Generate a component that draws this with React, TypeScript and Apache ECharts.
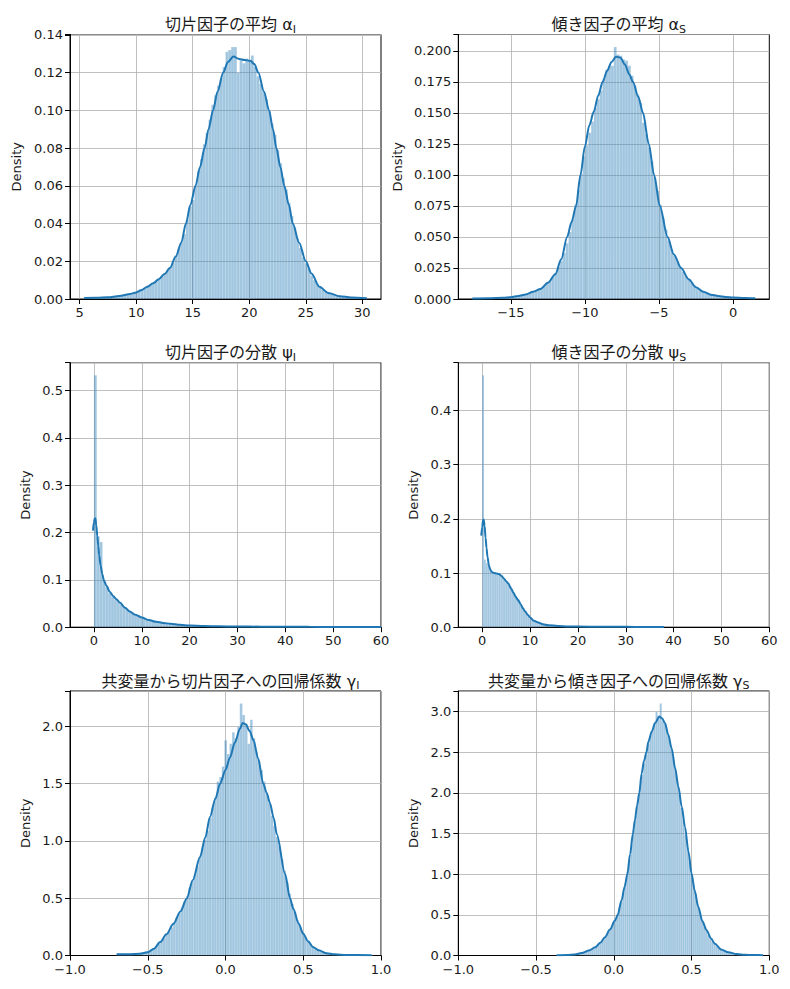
import React, { useEffect, useRef } from "react";
import * as echarts from "echarts";

// ---------- DATA ----------
const titles = [
  "切片因子の平均 α",
  "傾き因子の平均 α",
  "切片因子の分散 ψ",
  "傾き因子の分散 ψ",
  "共変量から切片因子への回帰係数 γ",
  "共変量から傾き因子への回帰係数 γ",
];
const subscripts = ["I", "S", "I", "S", "I", "S"];

// histogram bin start & width
const binStarts = [5.4, -17.6, 0.0, 0.0, -0.7, -0.37];
const binWidths = [0.25, 0.191, 0.6, 0.38, 0.0165, 0.0133];

const alphaIHeights = [
  0.0005, 0.0003, 0.0004, 0.0005, 0.0006, 0.0006, 0.0008, 0.0009, 0.001, 0.0011,
  0.0013, 0.0015, 0.0017, 0.002, 0.0022, 0.0026, 0.0028, 0.0032, 0.0036, 0.0042,
  0.005, 0.0058, 0.007, 0.0076, 0.0084, 0.0092, 0.0105, 0.0118, 0.013, 0.015,
  0.0165, 0.019, 0.023, 0.0265, 0.03, 0.0345, 0.042, 0.049, 0.0525, 0.06,
  0.068, 0.074, 0.082, 0.088, 0.095, 0.103, 0.108, 0.113, 0.117, 0.123,
  0.131, 0.132, 0.1335, 0.1335, 0.12, 0.1265, 0.125, 0.1275, 0.1265, 0.129,
  0.123, 0.118, 0.114, 0.11, 0.106, 0.1, 0.093, 0.087, 0.079, 0.072,
  0.064, 0.058, 0.051, 0.044, 0.038, 0.032, 0.027, 0.022, 0.019, 0.016,
  0.0125, 0.01, 0.008, 0.0062, 0.005, 0.004, 0.003, 0.0024, 0.0019, 0.0015,
  0.0012, 0.001, 0.0008, 0.0007, 0.0006, 0.0005, 0.0004, 0.0004, 0.0003, 0.0004,
];
const alphaSHeights = [
  0.0004, 0.0003, 0.0004, 0.0005, 0.0005, 0.0006, 0.0006, 0.0007, 0.0008, 0.0009,
  0.001, 0.0012, 0.0014, 0.0016, 0.002, 0.0024, 0.0028, 0.0033, 0.0038, 0.0045,
  0.0052, 0.006, 0.0068, 0.0076, 0.0088, 0.0105, 0.0125, 0.015, 0.0175, 0.021,
  0.026, 0.031, 0.037, 0.045, 0.054, 0.064, 0.076, 0.088, 0.101, 0.115,
  0.124, 0.134, 0.143, 0.154, 0.161, 0.168, 0.177, 0.185, 0.188, 0.188,
  0.203, 0.197, 0.196, 0.193, 0.192, 0.188, 0.18, 0.172, 0.165, 0.158,
  0.142, 0.133, 0.122, 0.111, 0.098, 0.087, 0.076, 0.065, 0.056, 0.047,
  0.04, 0.035, 0.03, 0.026, 0.022, 0.0185, 0.0155, 0.013, 0.011, 0.009,
  0.0075, 0.0062, 0.0052, 0.0043, 0.0036, 0.003, 0.0026, 0.0022, 0.0019, 0.0017,
  0.0015, 0.0013, 0.0012, 0.0011, 0.001, 0.0009, 0.0009, 0.0008, 0.0008, 0.0007,
];
const psiIHeights = [
  0.532, 0.192, 0.18, 0.1, 0.085, 0.072, 0.065, 0.058, 0.053, 0.048,
  0.043, 0.039, 0.035, 0.031, 0.028, 0.025, 0.022, 0.0195, 0.0175, 0.0155,
  0.014, 0.0125, 0.011, 0.01, 0.009, 0.008, 0.0072, 0.0065, 0.0058, 0.0052,
  0.0047, 0.0042, 0.0038, 0.0035, 0.0032, 0.0029, 0.0027, 0.0025, 0.0023, 0.0021,
  0.002, 0.0018, 0.0017, 0.0016, 0.0016, 0.0015, 0.0015, 0.0014, 0.0014, 0.0013,
  0.0013, 0.0012, 0.0012, 0.0012, 0.0011, 0.0011, 0.0011, 0.001, 0.001, 0.001,
  0.0009, 0.0009, 0.0009, 0.0009, 0.0008, 0.0008, 0.0008, 0.0008, 0.0007, 0.0007,
  0.0007, 0.0007, 0.0007, 0.0006, 0.0006, 0.0006, 0.0006, 0.0006, 0.0006, 0.0005,
  0.0005, 0.0005, 0.0005, 0.0005, 0.0005, 0.0005, 0.0004, 0.0004, 0.0004, 0.0004,
  0.0004, 0.0004, 0.0004, 0.0004, 0.0003, 0.0003, 0.0003, 0.0003, 0.0003, 0.0003,
];
const psiSHeights = [
  0.465, 0.125, 0.118, 0.115, 0.108, 0.1, 0.1, 0.099, 0.098, 0.097,
  0.095, 0.092, 0.089, 0.085, 0.081, 0.076, 0.07, 0.063, 0.057, 0.052,
  0.047, 0.041, 0.035, 0.03, 0.026, 0.022, 0.018, 0.015, 0.0125, 0.0105,
  0.009, 0.0076, 0.0064, 0.0054, 0.0046, 0.004, 0.0035, 0.0031, 0.0027, 0.0024,
  0.0022, 0.002, 0.0019, 0.0018, 0.0017, 0.0016, 0.0015, 0.0015, 0.0014, 0.0014,
  0.0013, 0.0013, 0.0012, 0.0012, 0.0012, 0.0011, 0.0011, 0.0011, 0.001, 0.001,
  0.001, 0.0009, 0.0009, 0.0009, 0.0009, 0.0008, 0.0008, 0.0008, 0.0008, 0.0007,
  0.0007, 0.0007, 0.0007, 0.0007, 0.0006, 0.0006, 0.0006, 0.0006, 0.0006, 0.0005,
  0.0005, 0.0005, 0.0005, 0.0005, 0.0005, 0.0005, 0.0004, 0.0004, 0.0004, 0.0004,
  0.0004, 0.0004, 0.0004, 0.0003, 0.0003, 0.0003, 0.0003, 0.0003, 0.0003, 0.0003,
];
const gammaIHeights = [
  0.01, 0.01, 0.012, 0.012, 0.013, 0.015, 0.016, 0.018, 0.02, 0.024,
  0.028, 0.034, 0.042, 0.052, 0.066, 0.082, 0.1, 0.125, 0.15, 0.18,
  0.21, 0.245, 0.285, 0.33, 0.37, 0.42, 0.47, 0.52, 0.59, 0.65,
  0.7, 0.78, 0.86, 0.94, 1.01, 1.09, 1.2, 1.29, 1.38, 1.52,
  1.56, 1.65, 1.88, 1.76, 1.85, 1.95, 1.9, 2.0, 2.2, 2.1,
  2.02, 1.85, 2.06, 1.9, 1.78, 1.7, 1.62, 1.52, 1.42, 1.33,
  1.22, 1.13, 1.04, 0.95, 0.84, 0.74, 0.64, 0.54, 0.45, 0.38,
  0.31, 0.25, 0.2, 0.16, 0.125, 0.1, 0.08, 0.065, 0.055, 0.045,
  0.035, 0.028, 0.022, 0.018, 0.014, 0.011, 0.009, 0.008, 0.007, 0.006,
  0.005, 0.005, 0.004, 0.004, 0.004, 0.003, 0.003, 0.003, 0.003, 0.002,
];
const gammaSHeights = [
  0.004, 0.004, 0.005, 0.005, 0.006, 0.007, 0.008, 0.01, 0.012, 0.015,
  0.018, 0.023, 0.03, 0.038, 0.046, 0.055, 0.066, 0.08, 0.095, 0.115,
  0.135, 0.16, 0.185, 0.22, 0.26, 0.3, 0.34, 0.39, 0.44, 0.5,
  0.58, 0.66, 0.77, 0.89, 1.03, 1.18, 1.36, 1.54, 1.72, 1.9,
  2.08, 2.22, 2.36, 2.47, 2.6, 2.7, 2.76, 2.85, 3.0, 2.95,
  3.1, 2.88, 2.86, 2.76, 2.7, 2.58, 2.44, 2.3, 2.15, 1.98,
  1.82, 1.66, 1.48, 1.32, 1.15, 1.0, 0.86, 0.73, 0.62, 0.52,
  0.43, 0.36, 0.3, 0.25, 0.2, 0.17, 0.14, 0.115, 0.095, 0.078,
  0.064, 0.052, 0.043, 0.036, 0.029, 0.024, 0.02, 0.016, 0.013, 0.011,
  0.009, 0.008, 0.007, 0.006, 0.005, 0.005, 0.004, 0.004, 0.004, 0.003,
];

// KDE curves [x, density]
const alphaIKde = [
  [5.4, 0.0005], [6.5, 0.0006], [7.5, 0.0009], [8.5, 0.0016], [9.5, 0.0027], [10.0, 0.0035],
  [10.5, 0.0048], [11.0, 0.0065], [11.5, 0.0083], [12.0, 0.0105], [12.5, 0.0132], [13.0, 0.0165],
  [13.5, 0.0225], [14.0, 0.03], [14.4, 0.04], [14.8, 0.05], [15.25, 0.06], [15.65, 0.07],
  [16.05, 0.08], [16.4, 0.09], [16.8, 0.1], [17.2, 0.11], [17.7, 0.12], [18.1, 0.1255],
  [18.6, 0.1285], [19.1, 0.1272], [19.6, 0.1267], [20.1, 0.1262], [20.45, 0.1245], [20.8, 0.12],
  [21.3, 0.11], [21.75, 0.1], [22.1, 0.09], [22.4, 0.08], [22.75, 0.07], [23.1, 0.06],
  [23.5, 0.05], [23.85, 0.04], [24.4, 0.03], [25.0, 0.02], [25.5, 0.0135], [26.2, 0.0065],
  [27.0, 0.0032], [28.0, 0.0015], [29.0, 0.0008], [30.4, 0.0004],
];
const alphaSKde = [
  [-17.6, 0.0004], [-16.5, 0.0006], [-15.5, 0.0011], [-15.0, 0.0015], [-14.5, 0.0025], [-14.0, 0.0036],
  [-13.5, 0.0058], [-13.0, 0.008], [-12.5, 0.013], [-12.0, 0.02], [-11.6, 0.032], [-11.2, 0.05],
  [-10.9, 0.062], [-10.6, 0.075], [-10.3, 0.1], [-10.0, 0.123], [-9.7, 0.14], [-9.4, 0.151],
  [-9.1, 0.164], [-8.8, 0.175], [-8.5, 0.184], [-8.2, 0.191], [-7.9, 0.1953], [-7.6, 0.1945],
  [-7.3, 0.189], [-7.0, 0.181], [-6.76, 0.175], [-6.4, 0.163], [-6.08, 0.15], [-5.69, 0.125],
  [-5.33, 0.1], [-4.94, 0.075], [-4.42, 0.05], [-4.0, 0.036], [-3.5, 0.025], [-3.0, 0.016],
  [-2.5, 0.0095], [-2.0, 0.0058], [-1.5, 0.0035], [-1.0, 0.0024], [-0.5, 0.0017], [0.0, 0.0013],
  [0.8, 0.0009], [1.5, 0.0007],
];
const psiIKde = [
  [-0.2, 0.204], [0.0, 0.222], [0.15, 0.229], [0.3, 0.23], [0.5, 0.215], [0.7, 0.193],
  [0.9, 0.172], [1.1, 0.152], [1.4, 0.13], [1.75, 0.112], [2.1, 0.098], [2.6, 0.088],
  [3.3, 0.075], [4.0, 0.066], [4.7, 0.059], [5.4, 0.052], [6.5, 0.041], [7.5, 0.033],
  [8.5, 0.027], [10.0, 0.0205], [11.5, 0.015], [13.0, 0.0115], [14.5, 0.009], [16.0, 0.0072],
  [18.0, 0.005], [20.0, 0.0036], [23.0, 0.0025], [26.0, 0.0019], [30.0, 0.0015], [35.0, 0.0011],
  [40.0, 0.0009], [45.0, 0.0007], [50.0, 0.0006], [55.0, 0.0005], [60.0, 0.0004],
];
const psiSKde = [
  [-0.2, 0.169], [0.0, 0.185], [0.15, 0.196], [0.3, 0.199], [0.5, 0.187], [0.7, 0.165],
  [0.9, 0.146], [1.1, 0.13], [1.4, 0.114], [1.7, 0.106], [2.0, 0.102], [2.5, 0.1],
  [3.0, 0.099], [3.5, 0.098], [4.0, 0.095], [4.5, 0.09], [5.0, 0.085], [5.5, 0.08],
  [6.0, 0.072], [6.5, 0.064], [7.0, 0.056], [7.5, 0.05], [8.0, 0.043], [8.5, 0.035],
  [9.0, 0.029], [9.5, 0.023], [10.0, 0.018], [10.8, 0.012], [11.7, 0.0088], [12.7, 0.0055],
  [13.8, 0.0037], [15.8, 0.0022], [18.0, 0.0015], [20.0, 0.0012], [25.0, 0.0008], [30.0, 0.0006],
  [34.0, 0.0004], [38.0, 0.0003],
];
const gammaIKde = [
  [-0.7, 0.01], [-0.62, 0.012], [-0.55, 0.015], [-0.5, 0.028], [-0.46, 0.06], [-0.42, 0.117],
  [-0.38, 0.185], [-0.335, 0.277], [-0.29, 0.385], [-0.25, 0.496], [-0.21, 0.66], [-0.164, 0.86],
  [-0.13, 1.03], [-0.1, 1.21], [-0.065, 1.37], [-0.035, 1.5], [0.0, 1.62], [0.029, 1.73],
  [0.06, 1.86], [0.093, 1.98], [0.11, 2.03], [0.13, 2.02], [0.155, 1.96], [0.18, 1.88],
  [0.21, 1.72], [0.243, 1.5], [0.265, 1.42], [0.286, 1.33], [0.31, 1.2], [0.33, 1.06],
  [0.383, 0.714], [0.415, 0.5], [0.436, 0.408], [0.47, 0.28], [0.5, 0.19], [0.53, 0.125],
  [0.565, 0.073], [0.6, 0.045], [0.65, 0.02], [0.7, 0.01], [0.78, 0.005], [0.94, 0.003],
];
const gammaSKde = [
  [-0.368, 0.004], [-0.3, 0.007], [-0.25, 0.013], [-0.207, 0.03], [-0.16, 0.06], [-0.12, 0.1],
  [-0.085, 0.16], [-0.057, 0.226], [-0.025, 0.32], [0.0075, 0.43], [0.025, 0.5], [0.05, 0.68],
  [0.07, 0.85], [0.087, 1.0], [0.105, 1.25], [0.123, 1.5], [0.136, 1.67], [0.15, 1.85],
  [0.164, 2.0], [0.179, 2.24], [0.195, 2.4], [0.21, 2.5], [0.222, 2.63], [0.245, 2.76],
  [0.265, 2.86], [0.293, 2.94], [0.31, 2.92], [0.329, 2.86], [0.35, 2.72], [0.372, 2.55],
  [0.395, 2.3], [0.415, 2.08], [0.437, 1.83], [0.458, 1.58], [0.48, 1.28], [0.5, 1.01],
  [0.52, 0.8], [0.543, 0.6], [0.57, 0.42], [0.597, 0.31], [0.625, 0.21], [0.65, 0.144],
  [0.69, 0.075], [0.736, 0.041], [0.79, 0.017], [0.843, 0.008], [0.9, 0.005], [0.96, 0.004],
];

// axis ranges and tick labels
const xRanges = [[4.15, 31.65], [-18.55, 2.45], [-5, 60], [-5, 60], [-1, 1], [-1, 1]];
const xTickValues = [
  [5, 10, 15, 20, 25, 30],
  [-15, -10, -5, 0],
  [0, 10, 20, 30, 40, 50, 60],
  [0, 10, 20, 30, 40, 50, 60],
  [-1, -0.5, 0, 0.5, 1],
  [-1, -0.5, 0, 0.5, 1],
];
const xStep = [5, 5, 10, 10, 0.5, 0.5];
const xDecimals = [0, 0, 0, 0, 1, 1];
const yStep = [0.02, 0.025, 0.1, 0.1, 0.5, 0.5];
const yDecimals = [2, 3, 1, 1, 1, 1];
const yLabel = "Density";

const heightsList = [alphaIHeights, alphaSHeights, psiIHeights, psiSHeights, gammaIHeights, gammaSHeights];
const kdeList = [alphaIKde, alphaSKde, psiIKde, psiSKde, gammaIKde, gammaSKde];

// ---------- LAYOUT / STYLE ----------
const FONT = "'DejaVu Sans', 'Noto Sans CJK JP', sans-serif";
const TFONT = "'DejaVu Sans', 'Noto Sans CJK JP', sans-serif";
const gridLefts = [70, 458.3];
const gridTops = [34.5, 362.7, 691];
const gridW = 311;
const gridH = 264.5;
const nameGaps = [47, 54, 38.5, 38.5, 38.5, 38.5];
const LINE = "#1f77b4";
const TXT = "#1a1a1a";

const fmt = (v: number, d: number) => {
  const s = (Math.abs(v) < 1e-12 ? 0 : v).toFixed(d);
  return s.replace("-", "\u2212");
};
const isMultiple = (v: number, step: number) => Math.abs(v / step - Math.round(v / step)) < 1e-6;

function buildOption() {
  const grid: any[] = [];
  const xAxis: any[] = [];
  const yAxis: any[] = [];
  const title: any[] = [];
  const series: any[] = [];

  for (let i = 0; i < 6; i++) {
    const left = gridLefts[i % 2];
    const top = gridTops[Math.floor(i / 2)];
    grid.push({
      left, top, width: gridW, height: gridH,
      show: true, borderColor: "#000", borderWidth: 1, backgroundColor: "transparent",
      containLabel: false, outerBoundsMode: "none",
    });
    title.push({
      text: `{m|${titles[i]}}{s|${subscripts[i]}}`,
      left: left + gridW / 2,
      top: top - 25,
      textAlign: "center",
      textStyle: {
        fontWeight: "normal",
        rich: {
          m: { fontSize: 16, fontFamily: TFONT, fontWeight: "normal", color: TXT, lineHeight: 20 },
          s: { fontSize: 11, fontFamily: TFONT, fontWeight: "normal", color: TXT, lineHeight: 14, verticalAlign: "bottom" },
        },
      },
    });
    const xd = xDecimals[i];
    const xs = xStep[i];
    xAxis.push({
      type: "value", gridIndex: i,
      min: xRanges[i][0], max: xRanges[i][1],
      minInterval: xs, maxInterval: xs,
      axisLine: { show: true, onZero: false, lineStyle: { color: "#000", width: 1 } },
      axisTick: { show: true, inside: false, length: 5, customValues: xTickValues[i], lineStyle: { color: "#000", width: 1 } },
      axisLabel: {
        show: true, margin: 7, fontSize: 13, fontFamily: FONT, color: TXT,
        customValues: xTickValues[i],
        formatter: (v: number) => (isMultiple(v, xs) ? fmt(v, xd) : ""),
      },
      splitLine: { show: true, lineStyle: { color: "#b0b0b0", width: 0.8 } },
    });
    const ymax = Math.max(...heightsList[i]) * 1.05;
    const ys = yStep[i];
    const yd = yDecimals[i];
    yAxis.push({
      type: "value", gridIndex: i,
      min: 0, max: ymax, interval: ys,
      name: yLabel, nameLocation: "middle", nameGap: nameGaps[i], nameRotate: 90,
      nameTextStyle: { fontSize: 13, fontFamily: FONT, color: TXT },
      axisLine: { show: true, onZero: false, lineStyle: { color: "#000", width: 1 } },
      axisTick: { show: true, inside: false, length: 5, lineStyle: { color: "#000", width: 1 } },
      axisLabel: {
        show: true, margin: 7, fontSize: 13, fontFamily: FONT, color: TXT,
        formatter: (v: number) => (isMultiple(v, ys) && v <= ymax ? fmt(v, yd) : ""),
      },
      splitLine: { show: true, lineStyle: { color: "#b0b0b0", width: 0.8 } },
    });

    const start = binStarts[i];
    const w = binWidths[i];
    const bars = heightsList[i].map((h, k) => [start + k * w, start + (k + 1) * w, h]);
    series.push({
      type: "custom",
      xAxisIndex: i, yAxisIndex: i,
      clip: true,
      encode: { x: [0, 1], y: 2 },
      data: bars,
      renderItem: (params: any, api: any) => {
        const p0 = api.coord([api.value(0), api.value(2)]);
        const p1 = api.coord([api.value(1), 0]);
        return {
          type: "rect",
          shape: { x: p0[0], y: p0[1], width: p1[0] - p0[0], height: p1[1] - p0[1] },
          style: { fill: "rgba(31,119,180,0.42)", stroke: "rgba(255,255,255,0.35)", lineWidth: 0.4 },
        };
      },
    });
    series.push({
      type: "line",
      xAxisIndex: i, yAxisIndex: i,
      data: kdeList[i],
      showSymbol: false,
      symbol: "none",
      smooth: 0.3,
      smoothMonotone: "x",
      clip: true,
      lineStyle: { color: LINE, width: 2 },
      z: 3,
    });
  }

  return {
    animation: false,
    backgroundColor: "#fff",
    title, grid, xAxis, yAxis, series,
  };
}

export default function App() {
  const ref = useRef<HTMLDivElement>(null);
  useEffect(() => {
    document.body.style.margin = "0";
    const chart = echarts.init(ref.current!, null, { renderer: "svg" });
    chart.setOption(buildOption() as any);
    return () => chart.dispose();
  }, []);
  return <div ref={ref} style={{ width: 790, height: 989 }} />;
}
